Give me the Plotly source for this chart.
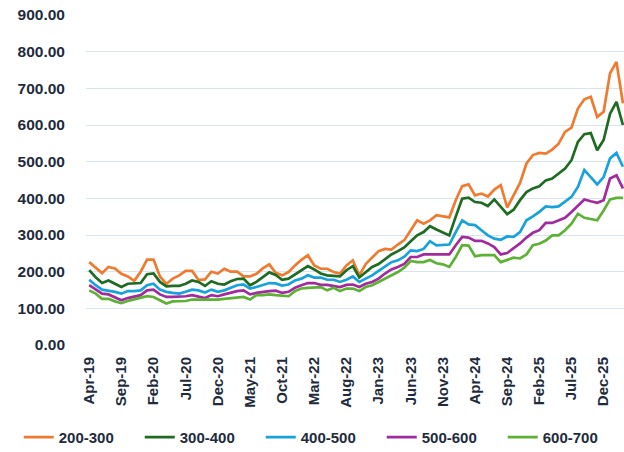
import plotly.graph_objects as go
import pandas as pd

months = [d.strftime("%b-%y") for d in pd.date_range("2019-04-01", periods=84, freq="MS")]
tick_labels = ["Apr-19", "Sep-19", "Feb-20", "Jul-20", "Dec-20", "May-21", "Oct-21", "Mar-22",
               "Aug-22", "Jan-23", "Jun-23", "Nov-23", "Apr-24", "Sep-24", "Feb-25", "Jul-25", "Dec-25"]

s200_300 = [226, 212, 196, 213, 209, 194, 187, 175, 200, 233, 233, 187, 167, 181, 190, 202, 202, 177, 179, 200,
            195, 208, 200, 200, 187, 187, 194, 209, 220, 197, 190, 199, 217, 232, 245, 217, 208, 208, 199, 195,
            217, 231, 190, 221, 239, 256, 262, 260, 274, 286, 313, 340, 331, 340, 354, 351, 348, 395, 433, 438,
            408, 413, 405, 424, 436, 375, 408, 442, 495, 518, 524, 522, 533, 549, 581, 593, 645, 670, 677, 622,
            636, 741, 772, 659]
s300_400 = [204, 185, 169, 176, 167, 158, 167, 167, 169, 193, 195, 172, 160, 161, 161, 167, 176, 172, 161, 174,
            167, 165, 174, 180, 181, 163, 172, 185, 198, 191, 178, 181, 193, 204, 215, 206, 195, 190, 188, 187,
            204, 215, 184, 199, 213, 221, 235, 247, 256, 266, 283, 299, 308, 324, 315, 306, 299, 350, 399, 402,
            390, 388, 379, 397, 378, 357, 369, 395, 417, 427, 433, 449, 454, 468, 481, 504, 554, 575, 578, 531,
            559, 631, 663, 600]
s400_500 = [178, 163, 151, 149, 145, 140, 147, 147, 149, 163, 167, 151, 145, 142, 140, 145, 151, 149, 143, 151,
            145, 149, 156, 163, 165, 154, 158, 163, 169, 168, 162, 165, 176, 181, 190, 184, 184, 178, 178, 172,
            178, 187, 172, 181, 190, 202, 213, 226, 231, 241, 258, 256, 262, 283, 272, 272, 274, 308, 340, 329,
            327, 313, 299, 290, 287, 296, 295, 308, 340, 351, 363, 378, 376, 378, 390, 404, 431, 477, 458, 438,
            458, 509, 524, 486]
s500_600 = [163, 151, 140, 138, 129, 122, 128, 133, 136, 149, 151, 138, 131, 131, 131, 133, 136, 131, 128, 136,
            133, 138, 143, 147, 149, 138, 142, 145, 147, 148, 142, 145, 156, 163, 169, 169, 164, 164, 161, 158,
            164, 165, 158, 167, 172, 181, 195, 206, 213, 221, 240, 240, 247, 247, 249, 249, 247, 272, 295, 293,
            284, 284, 277, 267, 247, 251, 263, 277, 293, 306, 313, 333, 333, 340, 347, 363, 380, 397, 392, 388,
            395, 454, 463, 427]
s600_700 = [149, 140, 126, 126, 119, 114, 120, 124, 128, 133, 131, 122, 113, 119, 119, 120, 124, 124, 122, 122,
            124, 126, 128, 128, 131, 124, 136, 136, 138, 136, 134, 133, 147, 154, 156, 156, 158, 149, 156, 147,
            154, 154, 147, 158, 163, 172, 181, 190, 199, 211, 229, 226, 226, 232, 223, 220, 213, 240, 272, 271,
            242, 245, 246, 245, 226, 232, 238, 236, 247, 272, 276, 285, 299, 299, 313, 331, 358, 347, 344, 340,
            367, 397, 401, 401]

series = [
    ("200-300", s200_300, "#EE7B30"),
    ("300-400", s300_400, "#1E6B22"),
    ("400-500", s400_500, "#17A2DC"),
    ("500-600", s500_600, "#A12B9E"),
    ("600-700", s600_700, "#5DB135"),
]

fig = go.Figure()
for name, vals, color in series:
    fig.add_trace(go.Scatter(x=months, y=vals, name=name, mode="lines",
                             line=dict(color=color, width=2.7)))

font_family = "Arial, Liberation Sans, sans-serif"
text_color = "#1E2B3C"

fig.update_layout(
    width=624, height=452,
    margin=dict(l=86, r=0, t=15, b=107, autoexpand=False),
    paper_bgcolor="white", plot_bgcolor="white",
    font=dict(family=font_family, color=text_color),
    showlegend=True,
    legend=dict(orientation="h", x=-0.125, xanchor="left", y=-0.28, yanchor="middle",
                font=dict(size=15, weight="bold", color=text_color),
                itemwidth=30, entrywidth=76, entrywidthmode="pixels", tracegroupgap=0),
)
fig.update_xaxes(
    type="category", range=[-0.5, 83.17], automargin=False,
    tickmode="array", tickvals=tick_labels, ticktext=tick_labels,
    tickangle=-90, tickfont=dict(size=15, weight="bold", color=text_color),
    showgrid=False, showline=False, zeroline=False, ticks="", ticklabelstandoff=8,
)
fig.update_yaxes(
    range=[0, 900], dtick=100, tickformat=".2f", automargin=False,
    showgrid=True, gridcolor="#D9E4F2", gridwidth=1.2,
    zeroline=False, showline=False, ticks="",
    tickfont=dict(size=15.5, weight="bold", color=text_color),
    ticklabelstandoff=20,
)

fig.write_html("out.html", config={"displayModeBar": False},
               post_script="document.body.style.margin='0';")
